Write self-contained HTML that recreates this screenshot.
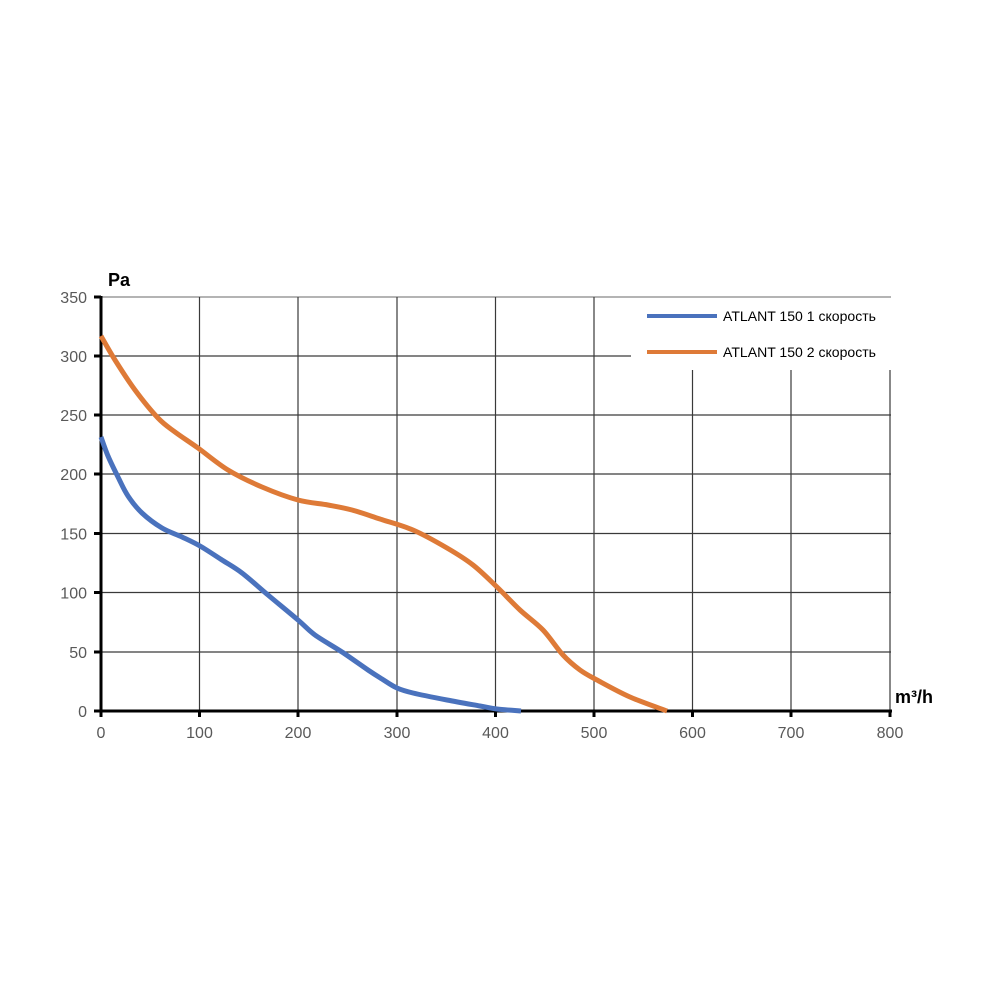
<!DOCTYPE html>
<html>
<head>
<meta charset="utf-8">
<style>
html,body{margin:0;padding:0;background:#fff;}
svg{display:block;}
text{font-family:"Liberation Sans",Arial,sans-serif;}
</style>
</head>
<body>
<svg id="chart" width="1000" height="1000" viewBox="0 0 1000 1000" xmlns="http://www.w3.org/2000/svg">
<rect width="1000" height="1000" fill="#fff"/>
<!-- grid -->
<g stroke="#3a3a3a" stroke-width="1.2" fill="none">
  <line x1="101" y1="297" x2="891" y2="297" stroke="#888"/>
  <line x1="101" y1="356" x2="631" y2="356"/>
  <line x1="101" y1="415" x2="891" y2="415"/>
  <line x1="101" y1="474" x2="891" y2="474"/>
  <line x1="101" y1="533.5" x2="891" y2="533.5"/>
  <line x1="101" y1="592.5" x2="891" y2="592.5"/>
  <line x1="101" y1="652" x2="891" y2="652"/>
  <line x1="199.5" y1="297" x2="199.5" y2="711"/>
  <line x1="298" y1="297" x2="298" y2="711"/>
  <line x1="397" y1="297" x2="397" y2="711"/>
  <line x1="495.5" y1="297" x2="495.5" y2="711"/>
  <line x1="594" y1="297" x2="594" y2="711"/>
  <line x1="692.5" y1="370" x2="692.5" y2="711"/>
  <line x1="791" y1="370" x2="791" y2="711"/>
  <line x1="890" y1="370" x2="890" y2="711"/>
</g>
<!-- axes -->
<g stroke="#000" stroke-width="3" fill="none">
  <line x1="101" y1="296" x2="101" y2="712"/>
  <line x1="100" y1="711" x2="892" y2="711"/>
  <line x1="94" y1="297" x2="101" y2="297"/>
  <line x1="94" y1="356" x2="101" y2="356"/>
  <line x1="94" y1="415" x2="101" y2="415"/>
  <line x1="94" y1="474" x2="101" y2="474"/>
  <line x1="94" y1="533.5" x2="101" y2="533.5"/>
  <line x1="94" y1="592.5" x2="101" y2="592.5"/>
  <line x1="94" y1="652" x2="101" y2="652"/>
  <line x1="94" y1="711" x2="101" y2="711"/>
  <line x1="101" y1="711" x2="101" y2="717"/>
  <line x1="199.5" y1="711" x2="199.5" y2="717"/>
  <line x1="298" y1="711" x2="298" y2="717"/>
  <line x1="397" y1="711" x2="397" y2="717"/>
  <line x1="495.5" y1="711" x2="495.5" y2="717"/>
  <line x1="594" y1="711" x2="594" y2="717"/>
  <line x1="692.5" y1="711" x2="692.5" y2="717"/>
  <line x1="791" y1="711" x2="791" y2="717"/>
  <line x1="890" y1="711" x2="890" y2="717"/>
</g>
<!-- y labels -->
<g fill="#595959" font-size="16" text-anchor="end">
  <text x="87" y="303">350</text>
  <text x="87" y="362">300</text>
  <text x="87" y="421">250</text>
  <text x="87" y="480">200</text>
  <text x="87" y="539.5">150</text>
  <text x="87" y="598.5">100</text>
  <text x="87" y="658">50</text>
  <text x="87" y="717">0</text>
</g>
<!-- x labels -->
<g fill="#595959" font-size="16" text-anchor="middle">
  <text x="101" y="738">0</text>
  <text x="199.5" y="738">100</text>
  <text x="298" y="738">200</text>
  <text x="397" y="738">300</text>
  <text x="495.5" y="738">400</text>
  <text x="594" y="738">500</text>
  <text x="692.5" y="738">600</text>
  <text x="791" y="738">700</text>
  <text x="890" y="738">800</text>
</g>
<text x="108" y="286" font-size="18" font-weight="bold" fill="#000">Pa</text>
<text x="895" y="703" font-size="18" font-weight="bold" fill="#000">m³/h</text>
<!-- series -->
<polyline id="s1" fill="none" stroke="#4A72BD" stroke-width="5" stroke-linejoin="round" stroke-linecap="butt"
 points="101,437 108,456 118,477 128,496 142,513 162,528 182,537 200,546 222,560 242,573 268,595 298,620 315,635 342,652 368,670 382,679 397,688 413,693 447,700 480,706 497,709 521,711"/>
<polyline id="s2" fill="none" stroke="#DE7A37" stroke-width="5" stroke-linejoin="round" stroke-linecap="butt"
 points="101,336 115,360 135,390 158,418 175,432 198,448 228,470 262,487 298,500 328,505 352,510 380,519 413,530 447,548 473,565 497,587 520,610 543,630 563,655 580,670 597,680 630,697 667,711"/>
<!-- legend -->
<rect x="631.5" y="298" width="259" height="72" fill="#fff"/>
<line x1="647" y1="316" x2="717" y2="316" stroke="#4A72BD" stroke-width="4"/>
<line x1="647" y1="352" x2="717" y2="352" stroke="#DE7A37" stroke-width="4"/>
<text x="723" y="321" font-size="13.5" fill="#000" textLength="153" lengthAdjust="spacingAndGlyphs">ATLANT 150 1 скорость</text>
<text x="723" y="357" font-size="13.5" fill="#000" textLength="153" lengthAdjust="spacingAndGlyphs">ATLANT 150 2 скорость</text>
</svg>
<script>
(function(){
  var NS="http://www.w3.org/2000/svg";
  ["s1","s2"].forEach(function(id){
    var pl=document.getElementById(id);
    if(!pl) return;
    var pts=pl.getAttribute("points").trim().split(/\s+/).map(function(p){var a=p.split(",");return [parseFloat(a[0]),parseFloat(a[1])];});
    var d="M"+pts[0][0]+","+pts[0][1];
    for(var i=0;i<pts.length-1;i++){
      var p0=pts[i-1]||pts[i],p1=pts[i],p2=pts[i+1],p3=pts[i+2]||p2;
      var c1x=p1[0]+(p2[0]-p0[0])/6,c1y=p1[1]+(p2[1]-p0[1])/6;
      var c2x=p2[0]-(p3[0]-p1[0])/6,c2y=p2[1]-(p3[1]-p1[1])/6;
      d+=" C"+c1x.toFixed(2)+","+c1y.toFixed(2)+" "+c2x.toFixed(2)+","+c2y.toFixed(2)+" "+p2[0]+","+p2[1];
    }
    var path=document.createElementNS(NS,"path");
    path.setAttribute("d",d);
    path.setAttribute("fill","none");
    path.setAttribute("stroke",pl.getAttribute("stroke"));
    path.setAttribute("stroke-width","5");
    path.setAttribute("stroke-linejoin","round");
    pl.parentNode.replaceChild(path,pl);
  });
})();
</script>
</body>
</html>
